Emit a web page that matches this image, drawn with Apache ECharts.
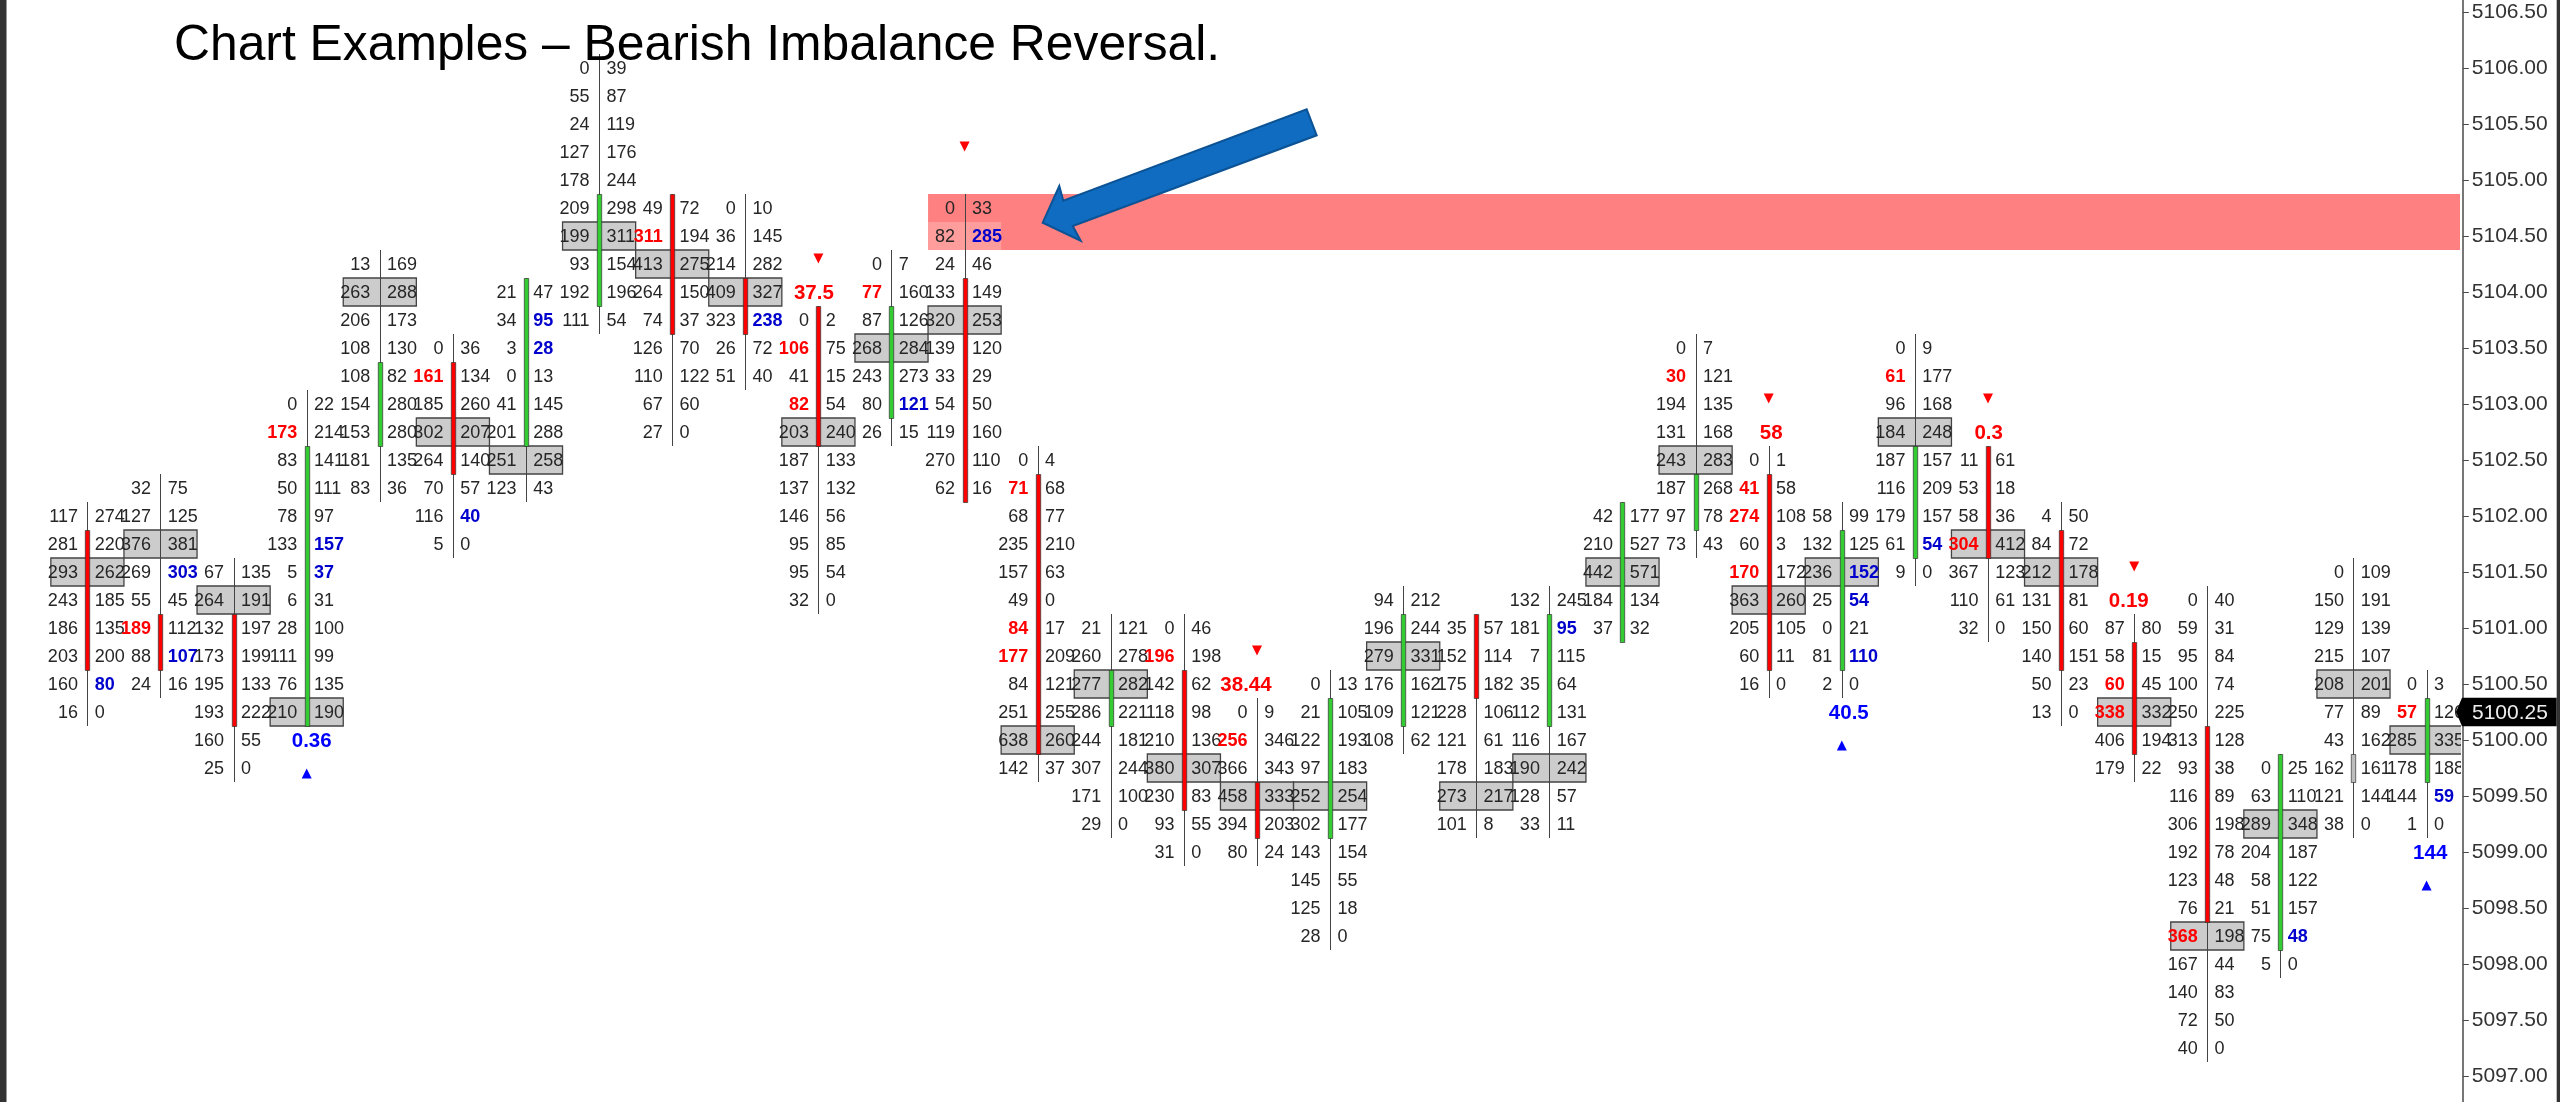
<!DOCTYPE html>
<html>
<head>
<meta charset="utf-8">
<style>html,body{margin:0;padding:0;background:#fff;overflow:hidden}#c{width:2560px;height:1102px}</style>
<script src="https://cdn.jsdelivr.net/npm/echarts@6/dist/echarts.min.js"></script>
</head>
<body>
<div id="c"></div>
<script>
const titleText = "Chart Examples – Bearish Imbalance Reversal.";
const lastPrice = 5100.25;
const colTop = [5102,5102.25,5101.5,5103,5104.25,5103.5,5104,5106,5104.75,5104.75,5103.75,5104.25,5104.75,5102.5,5101,5101,5100.25,5100.5,5101.25,5101,5101.25,5102,5103.5,5102.5,5102,5103.5,5102.5,5102,5101,5101.25,5099.75,5101.5,5100.5];
const bidCols = [
[117,281,293,243,186,203,160,16],
[32,127,376,269,55,189,88,24],
[67,264,132,173,195,193,160,25],
[0,173,83,50,78,133,5,6,28,111,76,210],
[13,263,206,108,108,154,153,181,83],
[0,161,185,302,264,70,116,5],
[21,34,3,0,41,201,251,123],
[0,55,24,127,178,209,199,93,192,111],
[49,311,413,264,74,126,110,67,27],
[0,36,214,409,323,26,51],
[0,106,41,82,203,187,137,146,95,95,32],
[0,77,87,268,243,80,26],
[0,82,24,133,320,139,33,54,119,270,62],
[0,71,68,235,157,49,84,177,84,251,638,142],
[21,260,277,286,244,307,171,29],
[0,196,142,118,210,380,230,93,31],
[0,256,366,458,394,80],
[0,21,122,97,252,302,143,145,125,28],
[94,196,279,176,109,108],
[35,152,175,228,121,178,273,101],
[132,181,7,35,112,116,190,128,33],
[42,210,442,184,37],
[0,30,194,131,243,187,97,73],
[0,41,274,60,170,363,205,60,16],
[58,132,236,25,0,81,2],
[0,61,96,184,187,116,179,61,9],
[11,53,58,304,367,110,32],
[4,84,212,131,150,140,50,13],
[87,58,60,338,406,179],
[0,59,95,100,250,313,93,116,306,192,123,76,368,167,140,72,40],
[0,63,289,204,58,51,75,5],
[0,150,129,215,208,77,43,162,121,38],
[0,57,285,178,144,1]
];
const askCols = [
[274,220,262,185,135,200,80,0],
[75,125,381,303,45,112,107,16],
[135,191,197,199,133,222,55,0],
[22,214,141,111,97,157,37,31,100,99,135,190],
[169,288,173,130,82,280,280,135,36],
[36,134,260,207,140,57,40,0],
[47,95,28,13,145,288,258,43],
[39,87,119,176,244,298,311,154,196,54],
[72,194,275,150,37,70,122,60,0],
[10,145,282,327,238,72,40],
[2,75,15,54,240,133,132,56,85,54,0],
[7,160,126,284,273,121,15],
[33,285,46,149,253,120,29,50,160,110,16],
[4,68,77,210,63,0,17,209,121,255,260,37],
[121,278,282,221,181,244,100,0],
[46,198,62,98,136,307,83,55,0],
[9,346,343,333,203,24],
[13,105,193,183,254,177,154,55,18,0],
[212,244,331,162,121,62],
[57,114,182,106,61,183,217,8],
[245,95,115,64,131,167,242,57,11],
[177,527,571,134,32],
[7,121,135,168,283,268,78,43],
[1,58,108,3,172,260,105,11,0],
[99,125,152,54,21,110,0],
[9,177,168,248,157,209,157,54,0],
[61,18,36,412,123,61,0],
[50,72,178,81,60,151,23,0],
[80,15,45,332,194,22],
[40,31,84,74,225,128,38,89,198,78,48,21,198,44,83,50,0],
[25,110,348,187,122,157,48,0],
[109,191,139,107,201,89,162,161,144,0],
[3,126,335,188,59,0]
];
const pocPrice = [5101.5,5101.75,5101.25,5100.25,5104,5102.75,5102.5,5104.5,5104.25,5104,5102.75,5103.5,5103.75,5100,5100.5,5099.75,5099.5,5099.5,5100.75,5099.5,5099.75,5101.5,5102.5,5101.25,5101.5,5102.75,5101.75,5101.5,5100.25,5098.25,5099.25,5100.5,5100];
const bodyTop = [5101.75,5101,5101,5102.5,5103.25,5103.25,5104,5104.75,5104.75,5104,5103.75,5103.75,5104,5102.25,5100.5,5100.5,5099.5,5100.25,5101,5101,5101,5102,5102.25,5102.25,5101.75,5102.5,5102.5,5101.75,5100.75,5100,5099.75,5099.75,5100.25];
const bodyBottom = [5100.75,5100.75,5100.25,5100.25,5102.75,5102.5,5102.75,5104,5103.75,5103.75,5102.75,5103,5102.25,5100,5100.25,5099.5,5099.25,5099.25,5100.25,5100.5,5100.25,5101,5102,5100.75,5100.75,5101.75,5101.75,5100.75,5100,5098.5,5098.25,5099.75,5099.75];
const bodyKind = ["r","r","r","g","g","r","g","g","r","r","r","g","r","r","g","r","r","g","g","r","g","g","g","r","g","g","r","r","r","r","g","n","g"];
const redBids = [[1,5101],[3,5102.75],[5,5103.25],[8,5104.5],[10,5103.5],[10,5103],[11,5104],[13,5102.25],[13,5101],[13,5100.75],[15,5100.75],[16,5100],[22,5103.25],[23,5102.25],[23,5102],[23,5101.5],[25,5103.25],[26,5101.75],[28,5100.5],[28,5100.25],[29,5098.25],[32,5100.25]];
const blueAsks = [[0,5100.5],[1,5101.5],[1,5100.75],[3,5101.75],[3,5101.5],[5,5102],[6,5103.75],[6,5103.5],[9,5103.75],[11,5103],[12,5104.5],[20,5101],[24,5101.5],[24,5101.25],[24,5100.75],[25,5101.75],[30,5098.25],[32,5099.5]];
const signalCols = [3,10,12,16,23,24,26,28,32];
const signalText = ["0.36","37.5","","38.44","58","40.5","0.3","0.19","144"];
const signalPrice = [5100,5104,5105,5100.5,5102.75,5100.25,5102.75,5101.25,5099];
const signalDir = [1,-1,-1,-1,-1,1,-1,-1,1];
const zoneStartCol = 12;
const zonePrices = [5104.75,5104.5];
const zoneCellPrice = 5104.5;
const yTicks = {min:5096.5,max:5107,step:0.5};

// ---- layout and style ----
const FONT = '"Liberation Sans", Arial, sans-serif';
const signalNudgePx = [5,-4.5,0,-11,2.5,7,0.7,-5.4,3.6];
const X_MIN = -1, X_MAX = 32.457, ROW = 0.25;
const RED = '#ff0000', CELLBLUE = '#0000cc', SIGBLUE = '#0000ff', INK = '#262626';
const bodyColor = {r:'#ff0000', g:'#33cc33', n:'#bdbdbd'};

const key = (c,p)=>c+'_'+p;
const redSet = new Set(redBids.map(a=>key(a[0],a[1])));
const blueSet = new Set(blueAsks.map(a=>key(a[0],a[1])));

const cellData = [];
bidCols.forEach((bids,c)=>{
  bids.forEach((b,i)=>{
    const p = colTop[c]-i*ROW;
    cellData.push([c,p,b,askCols[c][i]]);
  });
});
const candleData = colTop.map((t,c)=>[c,t,t-(bidCols[c].length-1)*ROW,bodyTop[c],bodyBottom[c]]);
const pocData = pocPrice.map((p,c)=>[c,p]);
const signalData = signalCols.map((c,i)=>[c,signalPrice[i],signalDir[i],i]);

function rowRect(api,c0,c1,pTop,pBottom){
  const a = api.coord([c0,pTop+ROW/2]);
  const b = api.coord([c1,pBottom-ROW/2]);
  return {x:a[0],y:a[1],width:b[0]-a[0],height:b[1]-a[1]};
}

const option = {
  animation:false,
  backgroundColor:'#ffffff',
  title:{text:titleText,left:174,top:21,padding:0,z:20,
    textStyle:{fontFamily:FONT,fontSize:49.8,fontWeight:'normal',color:'#000'}},
  grid:{left:14.3,top:-44,width:2445.7,height:1176,show:false,outerBoundsMode:'none',containLabel:false},
  xAxis:{type:'value',min:X_MIN,max:X_MAX,show:false,splitLine:{show:false}},
  yAxis:{type:'value',position:'right',offset:2.8,min:yTicks.min,max:yTicks.max,interval:yTicks.step,
    scale:true,
    axisLine:{show:true,onZero:false,lineStyle:{color:'#4a4a4a',width:1.5}},
    axisTick:{show:true,length:6,lineStyle:{color:'#4a4a4a',width:1}},
    splitLine:{show:false},
    axisLabel:{margin:9,color:'#333',fontFamily:FONT,fontSize:21,formatter:v=>v.toFixed(2)}},
  graphic:[
    {type:'rect',z:100,shape:{x:0,y:0,width:6.5,height:1102},style:{fill:'#333'}},
    {type:'rect',z:100,shape:{x:2556.7,y:0,width:3.3,height:1102},style:{fill:'#333'}},
    {type:'polygon',z:100,shape:{points:[[1306.7,109.3],[1316.7,135.3],[1072.7,226],[1080.7,240.7],[1042.7,222.7],[1059.3,186],[1063.3,200.7]]},
      style:{fill:'#0f6cc0',stroke:'#0b5394',lineWidth:2}}
  ],
  series:[
    {type:'custom',name:'zone',coordinateSystem:'cartesian2d',z:1,clip:true,silent:true,
      encode:{x:0,y:1},
      data:[[zoneStartCol-0.5,zonePrices[0],zonePrices[1]]],
      renderItem:(p,api)=>{
        const base = rowRect(api,api.value(0),X_MAX,api.value(1),api.value(2));
        const cell = rowRect(api,zoneStartCol-0.5,zoneStartCol+0.5,zoneCellPrice,zoneCellPrice);
        return {type:'group',children:[
          {type:'rect',shape:base,style:{fill:'#ff8080'}},
          {type:'rect',shape:cell,style:{fill:'#ff9c9c'}}
        ]};
      }},
    {type:'custom',name:'poc',coordinateSystem:'cartesian2d',z:2,clip:true,silent:true,
      encode:{x:0,y:1},data:pocData,
      renderItem:(p,api)=>({type:'rect',
        shape:rowRect(api,api.value(0)-0.5,api.value(0)+0.5,api.value(1),api.value(1)),
        style:{fill:'#cccccc',stroke:'#444',lineWidth:1.3}})},
    {type:'custom',name:'candles',coordinateSystem:'cartesian2d',z:3,clip:true,silent:true,
      encode:{x:0,y:[1,2,3,4]},data:candleData,
      renderItem:(p,api)=>{
        const c = api.value(0);
        const w = rowRect(api,c,c,api.value(1),api.value(2));
        const b = rowRect(api,c,c,api.value(3),api.value(4));
        const xc = Math.round(w.x);
        return {type:'group',children:[
          {type:'line',shape:{x1:xc+0.5,y1:w.y,x2:xc+0.5,y2:w.y+w.height},style:{stroke:'#444',lineWidth:1}},
          {type:'rect',shape:{x:xc-1.7,y:b.y+0.5,width:4.4,height:b.height},
            style:{fill:bodyColor[bodyKind[c]],stroke:'#333',lineWidth:0.7}}
        ]};
      }},
    {type:'custom',name:'cells',coordinateSystem:'cartesian2d',z:4,clip:true,silent:true,
      encode:{x:0,y:1},data:cellData,
      renderItem:(p,api)=>{
        const c = api.value(0), pr = api.value(1);
        const pt = api.coord([c,pr]);
        const red = redSet.has(key(c,pr)), blue = blueSet.has(key(c,pr));
        return {type:'group',children:[
          {type:'text',style:{x:pt[0]-9.5,y:pt[1]+1,text:String(api.value(2)),align:'right',verticalAlign:'middle',
            fill:red?RED:INK,font:(red?'bold ':'')+'18px '+FONT}},
          {type:'text',style:{x:pt[0]+7.3,y:pt[1]+1,text:String(api.value(3)),align:'left',verticalAlign:'middle',
            fill:blue?CELLBLUE:INK,font:(blue?'bold ':'')+'18px '+FONT}}
        ]};
      }},
    {type:'custom',name:'signals',coordinateSystem:'cartesian2d',z:5,clip:false,silent:true,
      encode:{x:0,y:1},data:signalData,
      renderItem:(p,api)=>{
        const pt = api.coord([api.value(0),api.value(1)]);
        const dir = api.value(2), i = api.value(3);
        const col = dir>0?SIGBLUE:RED;
        const ty = pt[1]+dir*33.5, h = dir*5;
        return {type:'group',children:[
          {type:'text',style:{x:pt[0]+signalNudgePx[i],y:pt[1]+1,text:signalText[i],align:'center',verticalAlign:'middle',
            fill:col,font:'bold 20.5px '+FONT}},
          {type:'polygon',shape:{points:[[pt[0]-5,ty+h],[pt[0]+5,ty+h],[pt[0],ty-h]]},style:{fill:col}}
        ]};
      }},
    {type:'custom',name:'lastTag',coordinateSystem:'cartesian2d',z:30,clip:false,silent:true,
      encode:{x:0,y:1},data:[[X_MAX,lastPrice]],
      renderItem:(p,api)=>{
        const pt = api.coord([api.value(0),api.value(1)]);
        const x = pt[0], y = pt[1];
        return {type:'group',children:[
          {type:'polygon',shape:{points:[[x-4,y],[x+2,y-14.2],[2556.7,y-14.2],[2556.7,y+14.2],[x+2,y+14.2]]},style:{fill:'#000'}},
          {type:'text',style:{x:x+12,y:y+1,text:api.value(1).toFixed(2),align:'left',verticalAlign:'middle',
            fill:'#eeeeee',font:'21px '+FONT}}
        ]};
      }}
  ]
};
echarts.init(document.getElementById('c'),null,{renderer:'canvas'}).setOption(option);
</script>
</body>
</html>
